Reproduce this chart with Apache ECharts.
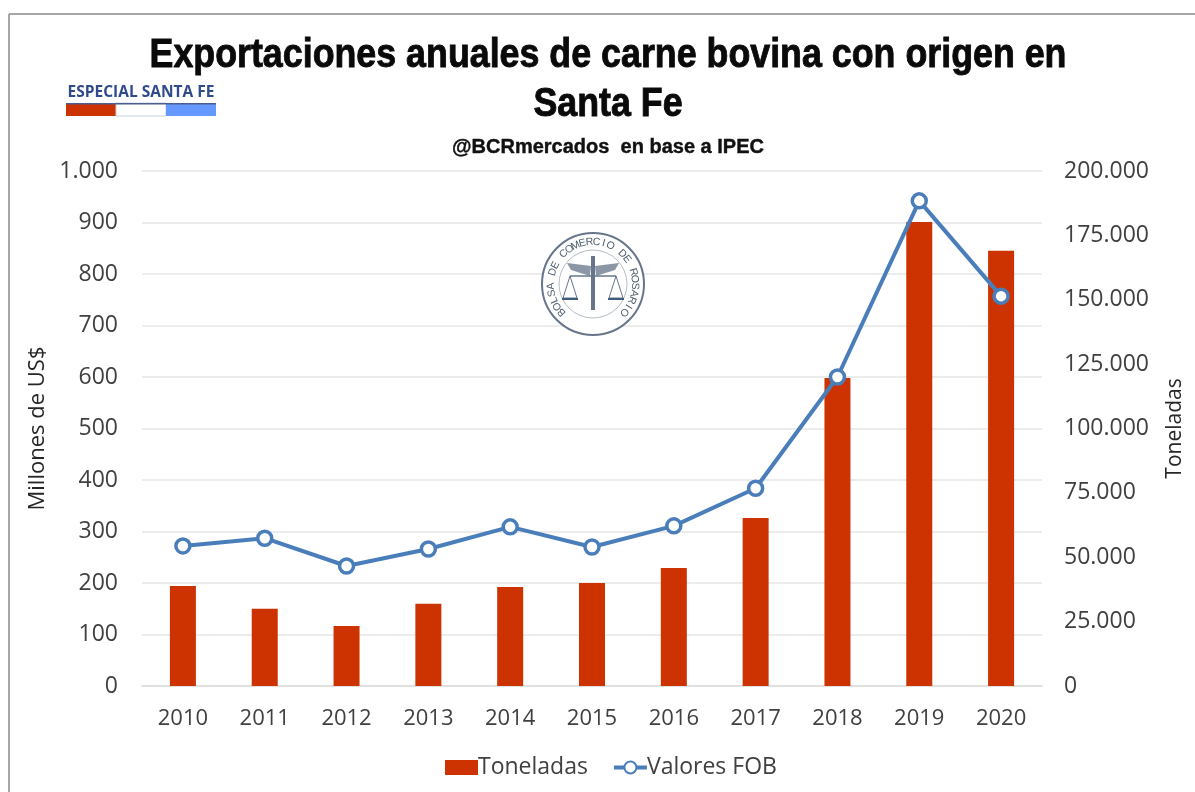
<!DOCTYPE html>
<html><head><meta charset="utf-8">
<style>html,body{margin:0;padding:0;background:#fff}#c{width:1195px;height:792px}</style>
<script src="https://cdn.jsdelivr.net/npm/echarts@6/dist/echarts.min.js"></script>
</head><body><div id="c"></div>
<script>
const years = ['2010','2011','2012','2013','2014','2015','2016','2017','2018','2019','2020'];
const toneladas = [38800,30000,23300,31900,38400,40000,45800,65200,119600,180200,169000];
const valoresFOB = [272,287,233,266,309,270,311,384,600,942,757];
const titleLines = ['Exportaciones anuales de carne bovina con origen en','Santa Fe'];
const subtitle = '@BCRmercados  en base a IPEC';
const sealText = 'BOLSA DE COMERCIO DE ROSARIO';
const thousands = v => String(v).replace(/\B(?=(\d{3})+$)/g,'.');
const FONT = '"Open Sans","Noto Sans",sans-serif';
const sealCx = 593, sealCy = 284, sealR = 42;
const sealLetters = sealText.split('').map((ch,i,a)=>{
  const ang = (-132 + i*(264/(a.length-1))) * Math.PI/180;
  return {type:'text',x:sealCx+sealR*Math.sin(ang),y:sealCy-sealR*Math.cos(ang),rotation:-ang,z:1,
    style:{text:ch,fill:'#4d5c6e',font:'10.5px "Liberation Sans"',textAlign:'center',textVerticalAlign:'middle'}};
});
const sealStroke = '#66758a';
const sealParts = [
  {type:'circle',shape:{cx:sealCx,cy:sealCy,r:51},z:1,style:{fill:'#fff',stroke:sealStroke,lineWidth:2}},
  {type:'circle',shape:{cx:sealCx,cy:sealCy,r:34},z:1,style:{fill:'#fff',stroke:'#b5bdc7',lineWidth:1}},
  {type:'line',shape:{x1:sealCx,y1:sealCy-28,x2:sealCx,y2:sealCy+26},z:1,style:{stroke:sealStroke,lineWidth:4}},
  {type:'polygon',shape:{points:[[sealCx-2,sealCy-18],[sealCx-26,sealCy-21],[sealCx-22,sealCy-14],[sealCx-3,sealCy-8]]},z:1,style:{fill:'#8b97a6'}},
  {type:'polygon',shape:{points:[[sealCx+2,sealCy-18],[sealCx+26,sealCy-21],[sealCx+22,sealCy-14],[sealCx+3,sealCy-8]]},z:1,style:{fill:'#8b97a6'}},
  {type:'line',shape:{x1:sealCx-23,y1:sealCy-8,x2:sealCx+23,y2:sealCy-8},z:1,style:{stroke:sealStroke,lineWidth:1.5}},
  {type:'polygon',shape:{points:[[sealCx-23,sealCy-8],[sealCx-30,sealCy+14],[sealCx-16,sealCy+14]]},z:1,style:{fill:'none',stroke:sealStroke,lineWidth:1}},
  {type:'polygon',shape:{points:[[sealCx+23,sealCy-8],[sealCx+16,sealCy+14],[sealCx+30,sealCy+14]]},z:1,style:{fill:'none',stroke:sealStroke,lineWidth:1}},
  {type:'line',shape:{x1:sealCx-31,y1:sealCy+15,x2:sealCx-15,y2:sealCy+15},z:1,style:{stroke:'#3d5a80',lineWidth:2}},
  {type:'line',shape:{x1:sealCx+15,y1:sealCy+15,x2:sealCx+31,y2:sealCy+15},z:1,style:{stroke:'#3d5a80',lineWidth:2}}
];
const titleText = (t,y) => ({type:'text',x:608,y:y,scaleX:0.873,z:5,
  style:{text:t,fill:'#0a0a0a',stroke:'#0a0a0a',lineWidth:0.9,font:'bold 41px "Liberation Sans"',textAlign:'center',textVerticalAlign:'middle'}});
const chart = echarts.init(document.getElementById('c'));
chart.setOption({
  animation:false,
  backgroundColor:'#fff',
  grid:{left:142,right:153,top:171,bottom:106,containLabel:false},
  legend:{top:751,left:440,itemGap:24,itemWidth:33,itemHeight:15,
    lineStyle:{width:4},
    textStyle:{fontFamily:FONT,fontSize:23,color:'#404040',padding:[0,0,0,-5]},
    data:[{name:'Toneladas',icon:'rect'},{name:'Valores FOB'}]},
  xAxis:{type:'category',data:years,axisTick:{show:false},
    axisLine:{lineStyle:{color:'#dcdcdc',width:1.5}},
    axisLabel:{fontFamily:FONT,fontSize:22,color:'#404040',margin:22}},
  yAxis:[
    {type:'value',min:0,max:1000,interval:100,name:'Millones de US$',nameLocation:'middle',nameGap:92,nameRotate:90,
     nameTextStyle:{fontFamily:FONT,fontSize:22,color:'#262626'},
     axisLine:{show:false},axisTick:{show:false},
     splitLine:{lineStyle:{color:'#e6e6e6',width:1.5}},
     axisLabel:{fontFamily:FONT,fontSize:23,color:'#404040',margin:24,formatter:thousands}},
    {type:'value',min:0,max:200000,interval:25000,name:'Toneladas',nameLocation:'middle',nameGap:123,nameRotate:90,
     nameTextStyle:{fontFamily:FONT,fontSize:21,color:'#262626'},
     axisLine:{show:false},axisTick:{show:false},splitLine:{show:false},
     axisLabel:{fontFamily:FONT,fontSize:23,color:'#404040',margin:22,formatter:thousands}}
  ],
  series:[
    {name:'Toneladas',type:'bar',yAxisIndex:1,data:toneladas,barWidth:26,itemStyle:{color:'#cc3300'}},
    {name:'Valores FOB',type:'line',yAxisIndex:0,data:valoresFOB,symbol:'circle',symbolSize:14,
     lineStyle:{color:'#4a7ebb',width:4},
     itemStyle:{color:'#fff',borderColor:'#4a7ebb',borderWidth:3.5}}
  ],
  graphic:[
    {type:'line',shape:{x1:9,y1:14,x2:1195,y2:14},z:0,style:{stroke:'#a6a6a6',lineWidth:2}},
    {type:'line',shape:{x1:9,y1:14,x2:9,y2:792},z:0,style:{stroke:'#a6a6a6',lineWidth:2}},
    titleText(titleLines[0],56),
    titleText(titleLines[1],105),
    {type:'text',x:608,y:147,z:5,style:{text:subtitle,fill:'#111',stroke:'#111',lineWidth:0.4,font:'bold 20px "Liberation Sans"',textAlign:'center',textVerticalAlign:'middle'}},
    {type:'text',x:141,y:93,z:5,style:{text:'ESPECIAL SANTA FE',fill:'#2f4b8c',font:'bold 15.5px "Open Sans"',textAlign:'center',textVerticalAlign:'middle'}},
    {type:'rect',shape:{x:66,y:103,width:50,height:13},z:5,style:{fill:'#cc3300'}},
    {type:'rect',shape:{x:116,y:103,width:50,height:13},z:5,style:{fill:'#fff',stroke:'#c8d0e0',lineWidth:1}},
    {type:'rect',shape:{x:166,y:103,width:50,height:13},z:5,style:{fill:'#6699ff'}},
    {type:'rect',shape:{x:66,y:103,width:150,height:1.5},z:6,style:{fill:'#4a5f8f'}}
  ].concat(sealParts,sealLetters)
});
</script></body></html>
